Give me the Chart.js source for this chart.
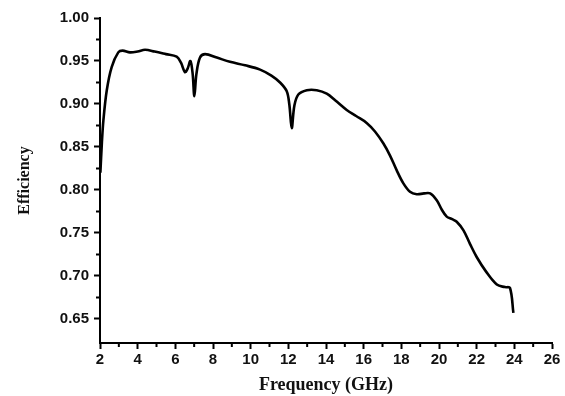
<!DOCTYPE html>
<html>
<head>
<meta charset="utf-8">
<script src="https://cdn.jsdelivr.net/npm/chart.js@4.4.0/dist/chart.umd.min.js"></script>
<style>
html,body{margin:0;padding:0;background:#fff;}
#wrap{width:565px;height:396px;position:relative;}
</style>
</head>
<body>
<div id="wrap"><canvas id="c" width="565" height="396"></canvas></div>
<script>
const freq = [2.02,2.10,2.18,2.36,2.62,2.97,3.20,3.59,4.00,4.39,4.90,5.50,6.07,6.30,6.51,6.65,6.80,6.92,7.01,7.12,7.31,7.58,8.20,8.90,9.70,10.50,11.10,11.56,11.91,12.05,12.18,12.32,12.53,12.98,13.51,14.04,14.50,15.10,15.60,16.16,16.60,17.05,17.40,17.75,18.10,18.46,18.82,19.20,19.53,19.88,20.15,20.41,20.70,20.94,21.30,21.65,22.00,22.50,23.07,23.50,23.77,23.95];
const efficiency = [0.820,0.855,0.881,0.916,0.943,0.960,0.962,0.960,0.961,0.963,0.961,0.958,0.955,0.948,0.937,0.941,0.950,0.935,0.909,0.935,0.954,0.958,0.954,0.949,0.945,0.940,0.933,0.925,0.915,0.900,0.872,0.898,0.911,0.916,0.916,0.912,0.904,0.893,0.886,0.878,0.868,0.854,0.840,0.823,0.808,0.798,0.795,0.796,0.796,0.788,0.777,0.769,0.766,0.763,0.753,0.737,0.722,0.705,0.690,0.687,0.686,0.657];
const xTicks = [2,4,6,8,10,12,14,16,18,20,22,24,26];
const yTicks = [0.65,0.70,0.75,0.80,0.85,0.90,0.95,1.00];
const xMinor = [3,5,7,9,11,13,15,17,19,21,23,25];
const yMinor = [0.675,0.725,0.775,0.825,0.875,0.925,0.975];

const points = freq.map((f,i)=>({x:f,y:efficiency[i]}));

const minorTicks = {
  id:'minorTicks',
  afterDraw(chart){
    const ctx = chart.ctx, xs = chart.scales.x, ys = chart.scales.y;
    const a = chart.chartArea;
    ctx.save();
    ctx.strokeStyle = '#000';
    ctx.lineWidth = 2;
    ctx.beginPath();
    xMinor.forEach(v=>{const p=xs.getPixelForValue(v); ctx.moveTo(p,a.bottom); ctx.lineTo(p,a.bottom+4);});
    yMinor.forEach(v=>{const p=ys.getPixelForValue(v); ctx.moveTo(a.left,p); ctx.lineTo(a.left-4,p);});
    ctx.stroke();
    ctx.restore();
  }
};

new Chart(document.getElementById('c'),{
  type:'line',
  data:{datasets:[{data:points,borderColor:'#000',borderWidth:2.6,pointRadius:0,tension:0.35,fill:false}]},
  options:{
    responsive:false,animation:false,
    layout:{padding:{left:0,right:13,top:18,bottom:0}},
    plugins:{legend:{display:false},tooltip:{enabled:false}},
    scales:{
      x:{type:'linear',min:2,max:26,
        afterBuildTicks(s){s.ticks = xTicks.map(v=>({value:v}));},
        afterFit(s){s.height = 53;},
        grid:{drawOnChartArea:false,drawTicks:true,tickLength:6,tickWidth:2,tickColor:'#000'},
        border:{display:true,color:'#000',width:2},
        ticks:{color:'#111',font:{family:'Liberation Sans',weight:'bold',size:15},padding:2,maxRotation:0,autoSkip:false,callback:v=>String(v)},
        title:{display:true,text:'Frequency (GHz)',color:'#111',font:{family:'Liberation Serif',weight:'bold',size:18},padding:{top:1,bottom:0}}
      },
      y:{type:'linear',min:0.622,max:1.0,
        afterBuildTicks(s){s.ticks = yTicks.map(v=>({value:v}));},
        afterFit(s){s.width = 100;},
        grid:{drawOnChartArea:false,drawTicks:true,tickLength:6,tickWidth:2,tickColor:'#000'},
        border:{display:true,color:'#000',width:2},
        ticks:{color:'#111',font:{family:'Liberation Sans',weight:'bold',size:15},padding:5,autoSkip:false,callback:v=>Number(v).toFixed(2)},
        title:{display:true,text:'Efficiency',color:'#111',font:{family:'Liberation Serif',weight:'bold',size:16},padding:{top:15,bottom:0}}
      }
    }
  },
  plugins:[minorTicks]
});
</script>
</body>
</html>
